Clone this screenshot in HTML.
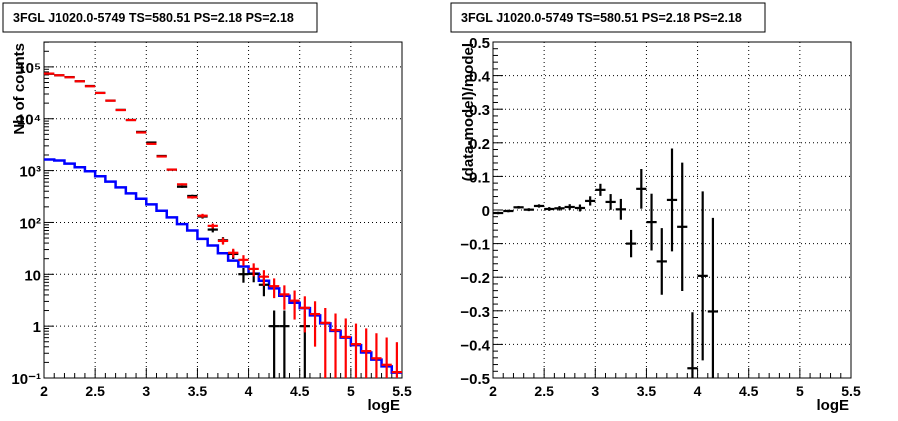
<!DOCTYPE html>
<html><head><meta charset="utf-8"><style>
html,body{margin:0;padding:0;background:#fff;}
svg{display:block;font-family:"Liberation Sans",sans-serif;}
</style></head><body>
<svg id="c" width="898" height="421" viewBox="0 0 898 421"></svg>
<script>
const binCenters = [2.05,2.15,2.25,2.35,2.45,2.55,2.65,2.75,2.85,2.95,3.05,3.15,3.25,3.35,3.45,3.55,3.65,3.75,3.85,3.95,4.05,4.15,4.25,4.35,4.45,4.55,4.65,4.75,4.85,4.95,5.05,5.15,5.25,5.35,5.45];
const modelCounts = [74300,69000,63100,52800,42300,31400,22300,14700,9420,5430,3280,1870,1045,543,305,135,86,44,26,19,12.7,9.0,5.9,4.1,3.1,2.26,1.71,1.16,0.84,0.62,0.45,0.33,0.24,0.18,0.13];
const bkgCounts = [1633,1563,1365,1161,971,776,612,475,364,287,223,168,125,93,70,48.3,35.9,25.5,18.4,14.1,10.3,7.5,5.36,3.86,2.83,2.23,1.61,1.13,0.81,0.60,0.43,0.31,0.226,0.168,0.127];
const residuals = [-0.009,-0.003,0.008,0.001,0.012,0.003,0.005,0.009,0.006,0.027,0.060,0.024,0.002,-0.100,0.063,-0.036,-0.153,0.030,-0.050,-0.471,-0.196,-0.302];
const extraDataX = [4.25,4.35,4.55];
const extraDataCounts = [1,1,1];
const xTickLabels = ["2","2.5","3","3.5","4","4.5","5","5.5"];
const logTickLabels = ["10\u207B\u00B9","1","10","10\u00B2","10\u00B3","10\u2074","10\u2075"];
const resTickLabels = ["\u22120.5","\u22120.4","\u22120.3","\u22120.2","\u22120.1","0","0.1","0.2","0.3","0.4","0.5"];
const titleText = "3FGL J1020.0-5749 TS=580.51 PS=2.18 PS=2.18";

const svg = document.getElementById('c');
const NS = "http://www.w3.org/2000/svg";
function mk(tag, attrs, parent){const e=document.createElementNS(NS,tag);for(const k in attrs)e.setAttribute(k,attrs[k]);(parent||svg).appendChild(e);return e;}

const L = {x0:44,x1:402,y0:42,y1:378};
const R = {x0:493,x1:851,y0:42,y1:378};
const xmin=2,xmax=5.5, lmin=-1, lmax=5.48, rmin=-0.5, rmax=0.5;
function xL(v){return L.x0+(v-xmin)/(xmax-xmin)*(L.x1-L.x0);}
function xR(v){return R.x0+(v-xmin)/(xmax-xmin)*(R.x1-R.x0);}
function yL(v){const lv=Math.log10(Math.max(v,1e-9));const c=Math.max(lmin,Math.min(lmax,lv));return L.y1-(c-lmin)/(lmax-lmin)*(L.y1-L.y0);}
function yR(v){const c=Math.max(rmin,Math.min(rmax,v));return R.y1-(c-rmin)/(rmax-rmin)*(R.y1-R.y0);}

// title boxes
[[3,titleText,'left-title'],[451,titleText,'right-title']].forEach(([x,t,n])=>{
  const g=mk('g',{});
  
  
  mk('rect',{x:x,y:3,width:314,height:29,fill:'#fff',stroke:'#000','stroke-width':1},g);
  const tx=mk('text',{x:x+10,y:22,'font-size':'12.5','font-weight':'bold'},g);tx.textContent=t;
});

function frame(P,name){
  const r=mk('rect',{x:P.x0,y:P.y0,width:P.x1-P.x0,height:P.y1-P.y0,fill:'none',stroke:'#000','stroke-width':1});
  
  
}
function xAxis(P,xf,name){
  const g=mk('g',{});
  
  
  for(let i=0;i<=35;i++){
    const v=2+i*0.1, x=xf(v), major=(i%5===0);
    mk('line',{x1:x,x2:x,y1:P.y1,y2:P.y1-(major?10:5),stroke:'#000'},g);
  }
  xTickLabels.forEach((t,i)=>{
    const v=2+i*0.5,x=xf(v);
    if(i>0&&i<7) mk('line',{x1:x,x2:x,y1:P.y0,y2:P.y1,stroke:'#000','stroke-dasharray':'1,3'},g);
    const tx=mk('text',{x:x,y:P.y1+18,'font-size':'14','font-weight':'bold','text-anchor':'middle'},g);tx.textContent=t;
  });
  const tt=mk('text',{x:P.x1-2,y:P.y1+32,'font-size':'15','font-weight':'bold','text-anchor':'end'},g);tt.textContent='logE';
}

// LEFT
frame(L,'left-plot-frame');
xAxis(L,xL,'left-x-axis');
const gly=mk('g',{});


for(let d=-1;d<=5;d++){
  const y=yL(Math.pow(10,d));
  mk('line',{x1:L.x0,x2:L.x0+10,y1:y,y2:y,stroke:'#000'},gly);
  if(d>-1&&d<=5) mk('line',{x1:L.x0,x2:L.x1,y1:y,y2:y,stroke:'#000','stroke-dasharray':'1,3'},gly);
  for(let m=2;m<=9;m++){const yy=yL(m*Math.pow(10,d));if(yy>L.y0)mk('line',{x1:L.x0,x2:L.x0+5,y1:yy,y2:yy,stroke:'#000'},gly);}
  const tx=mk('text',{x:L.x0-3,y:y+6,'font-size':'15','font-weight':'bold','text-anchor':'end'},gly);tx.textContent=logTickLabels[d+1];
}
const ylt=mk('text',{transform:`translate(24,${L.y0+1}) rotate(-90)`,'font-size':'15','font-weight':'bold','text-anchor':'end'},gly);ylt.textContent='Nb of counts';

// blue background histogram
let d='';
binCenters.forEach((c,i)=>{const y=yL(bkgCounts[i]);d+=(i===0?`M${xL(c-0.05)},${y}`:`V${y}`)+`H${xL(c+0.05)}`;});
const bl=mk('path',{d:d,fill:'none',stroke:'#0000ff','stroke-width':2.5});



// black data points (left)
const dataCounts = residuals.map((r,i)=>modelCounts[i]*(1+r));
const gd=mk('g',{});


function errPt(g,xf,yf,x,v,e,col,w){
  mk('line',{x1:xf(x-0.05),x2:xf(x+0.05),y1:yf(v),y2:yf(v),stroke:col,'stroke-width':w},g);
  mk('line',{x1:xf(x),x2:xf(x),y1:yf(v+e),y2:yf(Math.max(v-e,1e-9)),stroke:col,'stroke-width':w},g);
}
dataCounts.forEach((v,i)=>errPt(gd,xL,yL,binCenters[i],v,Math.sqrt(v),'#000',2.2));
extraDataX.forEach((x,i)=>errPt(gd,xL,yL,x,extraDataCounts[i],Math.sqrt(extraDataCounts[i]),'#000',2.2));

// red model points
const gm=mk('g',{});


modelCounts.forEach((v,i)=>errPt(gm,xL,yL,binCenters[i],v,Math.sqrt(v),'#ff0000',2.2));

// RIGHT
frame(R,'right-plot-frame');
xAxis(R,xR,'right-x-axis');
const gry=mk('g',{});


for(let i=0;i<=50;i++){
  const v=-0.5+i*0.02,y=yR(v),major=(i%5===0);
  mk('line',{x1:R.x0,x2:R.x0+(major?10:5),y1:y,y2:y,stroke:'#000'},gry);
}
resTickLabels.forEach((t,i)=>{
  const v=-0.5+i*0.1,y=yR(v);
  if(i>0&&i<10) mk('line',{x1:R.x0,x2:R.x1,y1:y,y2:y,stroke:'#000','stroke-dasharray':'1,3'},gry);
  const tx=mk('text',{x:R.x0-3,y:y+6,'font-size':'15','font-weight':'bold','text-anchor':'end'},gry);tx.textContent=t;
});
const yrt=mk('text',{transform:`translate(473,${R.y0+1}) rotate(-90)`,'font-size':'15','font-weight':'bold','text-anchor':'end'},gry);yrt.textContent='(data-model)/model';

const gr=mk('g',{});


residuals.forEach((r,i)=>{
  const e=Math.sqrt(dataCounts[i])/modelCounts[i];
  const x=binCenters[i];
  mk('line',{x1:xR(x-0.05),x2:xR(x+0.05),y1:yR(r),y2:yR(r),stroke:'#000','stroke-width':2.2},gr);
  mk('line',{x1:xR(x),x2:xR(x),y1:yR(r+e),y2:yR(r-e),stroke:'#000','stroke-width':2.2},gr);
});
</script>
</body></html>
